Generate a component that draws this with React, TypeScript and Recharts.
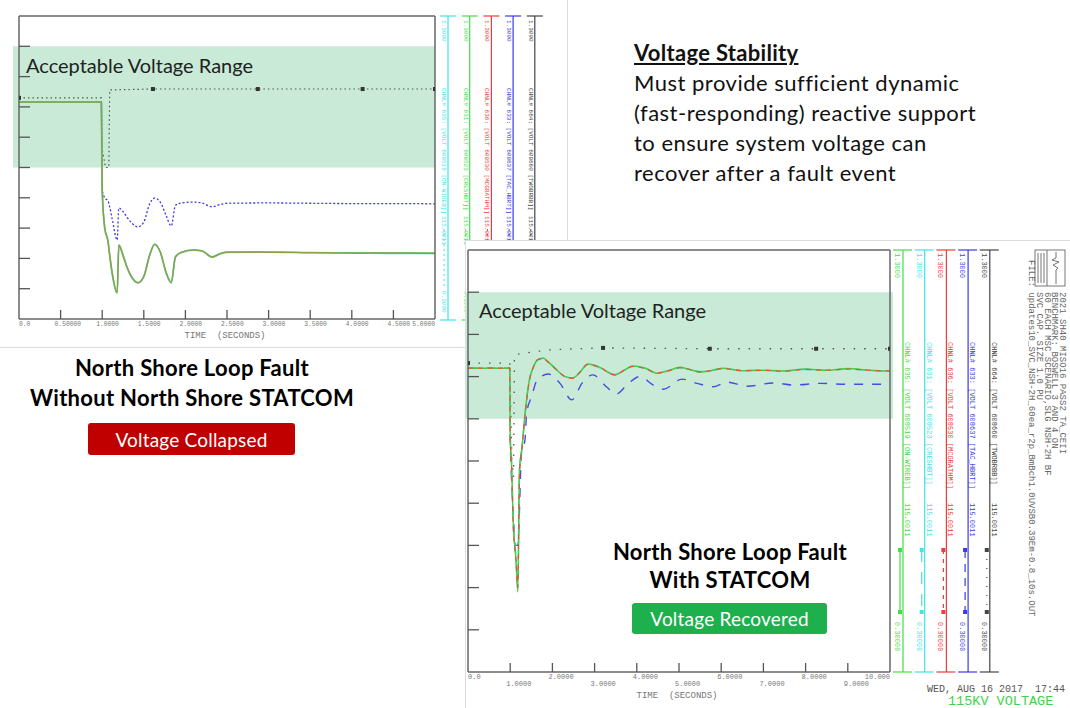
import React from 'react';
import { LineChart, Line, XAxis, YAxis, ReferenceArea } from 'recharts';

// ---- left plot: North Shore loop fault WITHOUT STATCOM (0 - 5 s) ----
const timeA = [0, 0.5, 0.99, 1.0, 1.03, 1.07, 1.09, 1.12, 1.18, 1.2, 1.25, 1.3, 1.35, 1.43, 1.5, 1.57, 1.63, 1.7, 1.77, 1.83, 1.88, 1.95, 2.1, 2.2, 2.32, 2.42, 2.5, 3, 3.5, 4, 4.5, 5];
const cyanA = [1.016, 1.016, 1.016, 0.726, 0.601, 0.556, 0.511, 0.451, 0.387, 0.543, 0.511, 0.469, 0.44, 0.42, 0.44, 0.51, 0.546, 0.519, 0.451, 0.42, 0.505, 0.519, 0.527, 0.525, 0.505, 0.516, 0.52, 0.521, 0.519, 0.518, 0.517, 0.517];
const greenA = [1.016, 1.016, 1.016, 0.726, 0.6, 0.555, 0.51, 0.45, 0.386, 0.544, 0.512, 0.47, 0.44, 0.419, 0.44, 0.51, 0.547, 0.52, 0.45, 0.419, 0.505, 0.52, 0.528, 0.525, 0.504, 0.515, 0.521, 0.521, 0.519, 0.518, 0.518, 0.517];
const redA = [1.016, 1.016, 1.016, 0.726, 0.606, 0.558, 0.514, 0.455, 0.39, 0.545, 0.505, 0.47, 0.441, 0.42, 0.441, 0.511, 0.546, 0.52, 0.455, 0.422, 0.504, 0.521, 0.527, 0.524, 0.505, 0.516, 0.521, 0.52, 0.519, 0.517, 0.518, 0.516];
const blueA = [1.016, 1.016, 1.016, 0.726, 0.7, 0.69, 0.67, 0.63, 0.561, 0.666, 0.655, 0.635, 0.618, 0.604, 0.62, 0.68, 0.699, 0.685, 0.64, 0.607, 0.675, 0.683, 0.686, 0.683, 0.67, 0.678, 0.682, 0.683, 0.682, 0.681, 0.681, 0.68];
const blackTimeA = [0, 0.99, 1.0, 1.04, 1.08, 1.09, 1.61, 2.87, 4.13, 5];
const blackA = [1.03, 1.03, 0.86, 0.8, 0.8, 1.056, 1.059, 1.059, 1.059, 1.059];
const blackMarksA = [0, 6, 7, 8, 9];

// ---- right plot: North Shore loop fault WITH STATCOM (0 - 10 s) ----
const timeB = [0, 0.5, 0.99, 1.0, 1.03, 1.07, 1.14, 1.18, 1.22, 1.28, 1.35, 1.45, 1.55, 1.65, 1.78, 1.9, 2.1, 2.3, 2.49, 2.65, 2.84, 3.1, 3.48, 3.7, 3.9, 4.2, 4.48, 4.75, 5.02, 5.25, 5.5, 5.8, 6.04, 6.5, 7, 7.5, 8, 8.5, 9, 9.5, 10];
const greenB = [1.02, 1.02, 1.02, 0.86, 0.8, 0.66, 0.56, 0.49, 0.78, 0.833, 0.91, 0.99, 1.023, 1.04, 1.044, 1.035, 1.016, 1.0, 0.997, 1.01, 1.03, 1.023, 1.004, 1.015, 1.025, 1.02, 1.008, 1.014, 1.022, 1.017, 1.011, 1.015, 1.02, 1.014, 1.015, 1.013, 1.018, 1.015, 1.019, 1.015, 1.013];
const cyanB = [1.02, 1.02, 1.02, 0.86, 0.8, 0.66, 0.57, 0.5, 0.78, 0.83, 0.908, 0.99, 1.022, 1.039, 1.043, 1.035, 1.016, 1.0, 0.997, 1.01, 1.03, 1.022, 1.005, 1.015, 1.024, 1.02, 1.009, 1.014, 1.021, 1.017, 1.012, 1.015, 1.019, 1.015, 1.015, 1.014, 1.017, 1.015, 1.018, 1.015, 1.013];
const redB = [1.02, 1.02, 1.02, 0.85, 0.79, 0.65, 0.56, 0.5, 0.77, 0.83, 0.905, 0.988, 1.022, 1.04, 1.043, 1.034, 1.016, 1.0, 0.996, 1.01, 1.029, 1.023, 1.004, 1.015, 1.024, 1.019, 1.008, 1.014, 1.021, 1.017, 1.011, 1.015, 1.019, 1.014, 1.015, 1.013, 1.017, 1.015, 1.018, 1.015, 1.013];
const blueTimeB = [0, 0.5, 0.99, 1.0, 1.03, 1.07, 1.12, 1.18, 1.27, 1.35, 1.39, 1.51, 1.63, 1.9, 2.18, 2.46, 2.7, 2.96, 3.28, 3.52, 3.8, 4.07, 4.39, 4.63, 5.07, 5.43, 5.82, 6.14, 6.62, 7.25, 7.72, 8.36, 8.91, 10];
const blueB = [1.02, 1.02, 1.02, 0.86, 0.76, 0.68, 0.6, 0.6, 0.82, 0.85, 0.914, 0.953, 0.99, 1.006, 0.984, 0.945, 0.984, 1.004, 0.976, 0.959, 0.984, 1.0, 0.98, 0.97, 0.994, 0.984, 0.976, 0.987, 0.977, 0.985, 0.98, 0.984, 0.982, 0.982];
const blackTimeB = [0, 0.99, 1.04, 1.08, 1.1, 1.5, 2, 3.2, 5.73, 8.25, 10];
const blackB = [1.032, 1.032, 0.8, 0.76, 1.052, 1.058, 1.064, 1.068, 1.066, 1.066, 1.066];
const blackMarksB = [0, 7, 8, 9, 10];

// ---- axes ----
const voltTicks = [0.3, 0.4, 0.5, 0.6, 0.7, 0.8, 0.9, 1.0, 1.1, 1.2, 1.3];
const timeTicksA = [0, 0.5, 1, 1.5, 2, 2.5, 3, 3.5, 4, 4.5, 5];
const timeLabelsA = ['0.0', '0.50000', '1.0000', '1.5000', '2.0000', '2.5000', '3.0000', '3.5000', '4.0000', '4.5000', '5.0000'];
const timeTicksB = [0, 1, 2, 3, 4, 5, 6, 7, 8, 9, 10];
const timeLabelsB = ['0.0', '1.0000', '2.0000', '3.0000', '4.0000', '5.0000', '6.0000', '7.0000', '8.0000', '9.0000', '10.000'];
const bandA = [0.8, 1.2];
const bandB = [0.9, 1.2];

// ---- channel legends ----
const legendA = [
  { color: '#3fe3e8', name: 'CHNL# 635: [VOLT 608519 [ON-WIREB]]' },
  { color: '#45dd45', name: 'CHNL# 631: [VOLT 608523 [CRESHBT]]' },
  { color: '#ee3b3b', name: 'CHNL# 636: [VOLT 608530 [MCGRATHM]]' },
  { color: '#3a3ae6', name: 'CHNL# 633: [VOLT 608637 [TAC_HBRT]]' },
  { color: '#444444', name: 'CHNL# 664: [VOLT 608660 [TWOBRBB]]' },
];
const legendB = [
  { color: '#45dd45', name: 'CHNL# 635: [VOLT 608519 [ON-WIREB]]', dash: '' },
  { color: '#3fe3e8', name: 'CHNL# 631: [VOLT 608523 [CRESHBT]]', dash: '12 10' },
  { color: '#ee3b3b', name: 'CHNL# 636: [VOLT 608530 [MCGRATHM]]', dash: '4 5' },
  { color: '#3a3ae6', name: 'CHNL# 633: [VOLT 608637 [TAC_HBRT]]', dash: '8 6' },
  { color: '#444444', name: 'CHNL# 664: [VOLT 608660 [TWOBRBB]]', dash: '1 8' },
];
const headerB = [
  '2021 SH40 MISO16 PASS2 TA_CEII',
  'BENCHMARK: BOSWELL 3 AND 4 ON',
  '60 EACH MSC SCENARIO,SLG NSH-2H BF',
  'SVC CAP. SIZE 1.0 PU',
];
const fileB = 'FILE: updates10_SVC_NSH-2H_60ea_r2p_BmBch1.0UVSB0.39Em-0.8_10s.OUT';

const MONO = "'Liberation Mono', 'DejaVu Sans Mono', monospace";
const SANS = "Lato, 'Open Sans', sans-serif";
const FRAME = { stroke: '#666', strokeWidth: 1.5 };

type Geo = { w: number; h: number; l: number; r: number; t: number; b: number; x0: number; x1: number };
const geoA: Geo = { w: 450, h: 345, l: 19, r: 435, t: 16, b: 319, x0: 0, x1: 5 };
const geoB: Geo = { w: 440, h: 460, l: 8, r: 430, t: 10, b: 432, x0: 0, x1: 10 };

const pts = (t: number[], v: number[]) => t.map((x, i) => ({ t: x, v: v[i] }));

const squares = (marks: number[]) => (p: any) =>
  marks.includes(p.index) ? (
    <rect key={`m${p.index}`} x={p.cx - 2} y={p.cy - 2} width={4} height={4} fill="#333" />
  ) : (
    <g key={`m${p.index}`} />
  );

function bottomTick(g: Geo, labels: string[], twoRows: boolean) {
  return (p: any) => {
    const i = p.index;
    const v = p.payload.value;
    const edge = v === g.x0 || v === g.x1;
    const last = v === g.x1;
    const row = twoRows ? i % 2 : 0;
    return (
      <g>
        {!edge && <line x1={p.x} x2={p.x} y1={g.b} y2={g.b - 9} stroke="#555" strokeWidth={1.3} />}
        <text
          x={v === g.x0 ? g.l : last ? g.r : p.x - (twoRows ? 4 : 6)}
          y={g.b + 7 + row * 7}
          textAnchor={last ? 'end' : 'start'}
          fontSize={twoRows ? 7 : 6.3}
          fontFamily={MONO}
          fill="#777"
        >
          {labels[i]}
        </text>
      </g>
    );
  };
}

function topTick(g: Geo) {
  return (p: any) => {
    const v = p.payload.value;
    if (v === g.x0 || v === g.x1) return <g />;
    return <line x1={p.x} x2={p.x} y1={g.t} y2={g.t + 9} stroke="#555" strokeWidth={1.3} />;
  };
}

function sideTick(g: Geo, right: boolean) {
  return (p: any) => {
    const v = p.payload.value;
    if (v === 0.3 || v === 1.3) return <g />;
    const x = right ? g.r : g.l;
    return <line x1={x} x2={right ? x - 11 : x + 11} y1={p.y} y2={p.y} stroke="#555" strokeWidth={1.3} />;
  };
}

function Plot({ g, ticks, labels, twoRows, band, bandX, children }: any) {
  return (
    <LineChart width={g.w} height={g.h} margin={{ top: 0, right: 0, bottom: 0, left: 0 }}>
      <XAxis xAxisId="b" type="number" dataKey="t" domain={[g.x0, g.x1]} ticks={ticks} interval={0}
        height={g.h - g.b} tickLine={false} axisLine={FRAME} tick={bottomTick(g, labels, twoRows)} allowDataOverflow />
      <XAxis xAxisId="top" orientation="top" type="number" dataKey="t" domain={[g.x0, g.x1]} ticks={ticks} interval={0}
        height={g.t} tickLine={false} axisLine={FRAME} tick={topTick(g)} />
      <YAxis yAxisId="l" type="number" domain={[0.3, 1.3]} ticks={voltTicks} interval={0}
        width={g.l} tickLine={false} axisLine={FRAME} tick={sideTick(g, false)} allowDataOverflow />
      <YAxis yAxisId="r" orientation="right" type="number" domain={[0.3, 1.3]} ticks={voltTicks} interval={0}
        width={g.w - g.r} tickLine={false} axisLine={FRAME} tick={sideTick(g, true)} />
      <ReferenceArea xAxisId="b" yAxisId="l" x1={bandX[0]} x2={bandX[1]} y1={band[0]} y2={band[1]}
        ifOverflow="visible" fill="#c8ead6" fillOpacity={1} stroke="none" />
      {children}
    </LineChart>
  );
}

function rot(x: number, y: number) {
  return `translate(${x},${y}) rotate(90)`;
}

function LegendA() {
  return (
    <svg width={567} height={347} style={{ position: 'absolute', left: 0, top: 0 }}>
      {legendA.map((c, i) => {
        const x = 448 + i * 21.7;
        return (
          <g key={c.name} fill={c.color} fontFamily={MONO} fontSize={6}>
            <line x1={x} x2={x} y1={16} y2={320} stroke={c.color} strokeWidth={1.2} />
            <line x1={x - 8} x2={x + 8} y1={16} y2={16} stroke={c.color} strokeWidth={1.2} />
            <line x1={x - 8} x2={x + 8} y1={320} y2={320} stroke={c.color} strokeWidth={1.2} />
            <text transform={rot(x - 6, 20)}>1.3000</text>
            <text transform={rot(x - 6, 88)}>{c.name}</text>
            <text transform={rot(x - 6, 216)}>115.0011</text>
            <line x1={x - 4} x2={x - 4} y1={229} y2={286} stroke={c.color} strokeWidth={1} strokeDasharray="2 3" />
            <text transform={rot(x - 6, 291)}>0.3000</text>
          </g>
        );
      })}
    </svg>
  );
}

function LegendB() {
  return (
    <svg width={1070} height={708} style={{ position: 'absolute', left: 0, top: 0, pointerEvents: 'none' }}>
      {legendB.map((c, i) => {
        const x = 903 + i * 21.7;
        return (
          <g key={c.name} fill={c.color} fontFamily={MONO} fontSize={7}>
            <line x1={x} x2={x} y1={250} y2={672} stroke={c.color} strokeWidth={1.2} />
            <line x1={x - 10} x2={x + 9} y1={250} y2={250} stroke={c.color} strokeWidth={1.2} />
            <line x1={x - 10} x2={x + 9} y1={672} y2={672} stroke={c.color} strokeWidth={1.2} />
            <text transform={rot(x - 8, 253)}>1.3000</text>
            <text transform={rot(x + 2, 342)}>{c.name}</text>
            <text transform={rot(x + 2, 503)}>115.0011</text>
            <line x1={x - 3} x2={x - 3} y1={550} y2={612} stroke={c.color} strokeWidth={1.2} strokeDasharray={c.dash} />
            <rect x={x - 5} y={548} width={4} height={4} />
            <rect x={x - 5} y={610} width={4} height={4} />
            <text transform={rot(x - 8, 622)}>0.30000</text>
          </g>
        );
      })}
      <g stroke="#777" fill="none" strokeWidth={1}>
        <rect x={1035} y={250} width={30} height={36} />
        <line x1={1047} x2={1047} y1={250} y2={286} />
        <line x1={1038} x2={1038} y1={253} y2={283} />
        <line x1={1041} x2={1041} y1={253} y2={283} />
        <line x1={1044} x2={1044} y1={253} y2={283} />
        <polyline points="1056,252 1056,258 1052,260 1059,262 1053,265 1058,268 1056,270 1056,284" />
      </g>
      <g fontFamily={MONO} fontSize={9} fill="#666">
        {headerB.map((s, i) => (
          <text key={s} transform={rot(1060 - i * 7.6, 292)}>{s}</text>
        ))}
        <text transform={rot(1029, 260)}>{fileB}</text>
      </g>
      <text x={927} y={692} fontFamily={MONO} fontSize={10} fill="#555" xmlSpace="preserve">WED, AUG 16 2017  17:44</text>
      <text x={948} y={705} fontFamily={MONO} fontSize={13.5} fill="#3fd34a">115KV VOLTAGE</text>
      <text x={677} y={698} textAnchor="middle" fontFamily={MONO} fontSize={9} fill="#777" xmlSpace="preserve">TIME  (SECONDS)</text>
    </svg>
  );
}

const box = (bg: string): React.CSSProperties => ({
  position: 'absolute', background: bg, color: '#fff', fontSize: 19, letterSpacing: '0.2px', borderRadius: 3,
  display: 'flex', alignItems: 'center', justifyContent: 'center', fontFamily: SANS,
});

const TITLE: React.CSSProperties = {
  position: 'absolute', textAlign: 'center', fontSize: 22, letterSpacing: '0.3px', fontWeight: 700, color: '#000',
};

export default function App() {
  return (
    <div style={{ position: 'absolute', left: 0, top: 0, width: 1070, height: 708, background: '#fff', overflow: 'hidden', fontFamily: SANS }}>
      <div style={{ position: 'absolute', left: 0, top: 0, width: 567, height: 347, borderRight: '1px solid #dcdcdc', borderBottom: '1px solid #dcdcdc' }} />
      <div style={{ position: 'absolute', left: 0, top: 0 }}>
        <Plot g={geoA} ticks={timeTicksA} labels={timeLabelsA} twoRows={false} band={bandA} bandX={[-0.072, 5]}>
          <Line xAxisId="b" yAxisId="l" data={pts(blackTimeA, blackA)} dataKey="v" type="linear" stroke="#555" strokeWidth={1.2}
            strokeDasharray="1.5 3" dot={squares(blackMarksA)} isAnimationActive={false} />
          <Line xAxisId="b" yAxisId="l" data={pts(timeA, blueA)} dataKey="v" type="monotone" stroke="#3a3ae6" strokeWidth={1.3}
            strokeDasharray="2 2" dot={false} isAnimationActive={false} />
          <Line xAxisId="b" yAxisId="l" data={pts(timeA, cyanA)} dataKey="v" type="monotone" stroke="#4fdcc0" strokeWidth={1.8}
            dot={false} isAnimationActive={false} />
          <Line xAxisId="b" yAxisId="l" data={pts(timeA, greenA)} dataKey="v" type="monotone" stroke="#5fc85a" strokeWidth={1.4}
            dot={false} isAnimationActive={false} />
          <Line xAxisId="b" yAxisId="l" data={pts(timeA, redA)} dataKey="v" type="monotone" stroke="#d9642e" strokeOpacity={0.45} strokeWidth={1.3}
            dot={false} isAnimationActive={false} />
        </Plot>
      </div>
      <svg width={567} height={347} style={{ position: 'absolute', left: 0, top: 0 }}>
        <text x={225} y={338} textAnchor="middle" fontFamily={MONO} fontSize={9} fill="#777" xmlSpace="preserve">TIME  (SECONDS)</text>
      </svg>
      <LegendA />
      <div style={{ position: 'absolute', left: 26, top: 53, fontSize: 20, color: '#222' }}>Acceptable Voltage Range</div>

      <div style={{ position: 'absolute', left: 634, top: 38, fontSize: 22, letterSpacing: '0.5px', lineHeight: '30px', color: '#111' }}>
        <div style={{ fontWeight: 700, textDecoration: 'underline', letterSpacing: '0.3px' }}>Voltage Stability</div>
        <div>Must provide sufficient dynamic</div>
        <div>(fast-responding) reactive support</div>
        <div>to ensure system voltage can</div>
        <div>recover after a fault event</div>
      </div>

      <div style={{ ...TITLE, left: 0, top: 353, width: 384, lineHeight: '30px' }}>
        <div>North Shore Loop Fault</div>
        <div>Without North Shore STATCOM</div>
      </div>
      <div style={{ ...box('#c00000'), left: 88, top: 423, width: 207, height: 32 }}>Voltage Collapsed</div>

      <div style={{ position: 'absolute', left: 465, top: 240, width: 605, height: 468, background: '#fff', borderTop: '1px solid #dcdcdc', borderLeft: '1px solid #dcdcdc' }} />
      <div style={{ position: 'absolute', left: 460, top: 240 }}>
        <Plot g={geoB} ticks={timeTicksB} labels={timeLabelsB} twoRows={true} band={bandB} bandX={[-0.07, 10.07]}>
          <Line xAxisId="b" yAxisId="l" data={pts(blackTimeB, blackB)} dataKey="v" type="linear" stroke="#555" strokeWidth={1.3}
            strokeDasharray="1.5 9" dot={squares(blackMarksB)} isAnimationActive={false} />
          <Line xAxisId="b" yAxisId="l" data={pts(blueTimeB, blueB)} dataKey="v" type="monotone" stroke="#4a4ae6" strokeWidth={1.4}
            strokeDasharray="9 9" dot={false} isAnimationActive={false} />
          <Line xAxisId="b" yAxisId="l" data={pts(timeB, cyanB)} dataKey="v" type="monotone" stroke="#3fe3e8" strokeWidth={1.5}
            strokeDasharray="12 6" dot={false} isAnimationActive={false} />
          <Line xAxisId="b" yAxisId="l" data={pts(timeB, greenB)} dataKey="v" type="monotone" stroke="#45d045" strokeWidth={1.5}
            dot={false} isAnimationActive={false} />
          <Line xAxisId="b" yAxisId="l" data={pts(timeB, redB)} dataKey="v" type="monotone" stroke="#e8503a" strokeWidth={1.2}
            strokeDasharray="5 5" dot={false} isAnimationActive={false} />
        </Plot>
      </div>
      <LegendB />
      <div style={{ position: 'absolute', left: 479, top: 298, fontSize: 20, color: '#222' }}>Acceptable Voltage Range</div>
      <div style={{ ...TITLE, left: 560, top: 538, width: 340, lineHeight: '28px' }}>
        <div>North Shore Loop Fault</div>
        <div>With STATCOM</div>
      </div>
      <div style={{ ...box('#1eb04c'), left: 632, top: 603, width: 195, height: 31 }}>Voltage Recovered</div>
    </div>
  );
}
